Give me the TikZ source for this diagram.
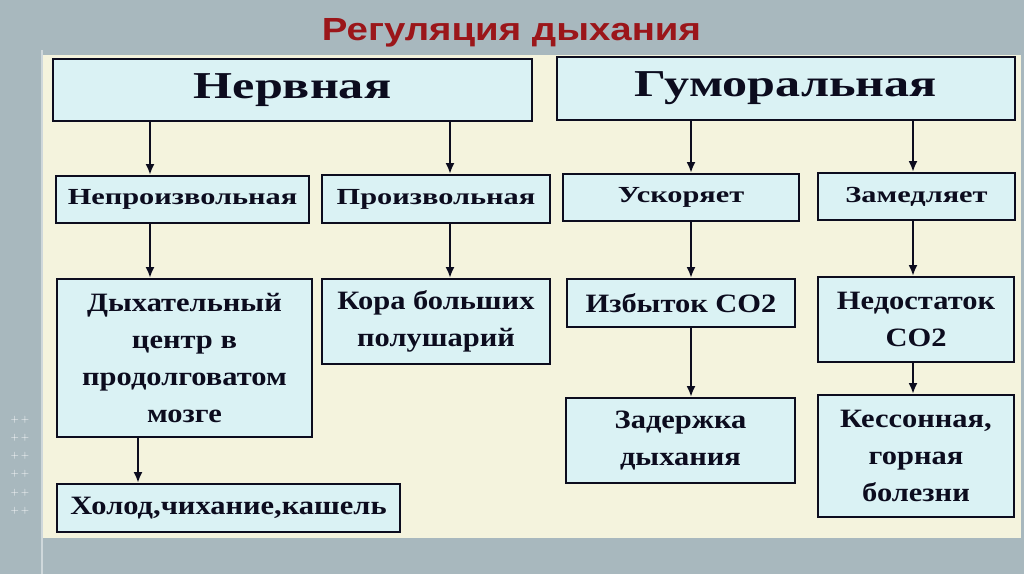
\documentclass[tikz,border=0pt]{standalone}
\usepackage{fontspec}
\setmainfont{Liberation Serif}
\newfontfamily\boxfont[FakeStretch=1.32]{Liberation Serif}
\newfontfamily\leaffont[FakeStretch=1.15]{Liberation Serif}
\newfontfamily\titlefont[FakeStretch=1.2]{Liberation Sans}
\usetikzlibrary{arrows.meta}

\definecolor{slidegray}{RGB}{168,184,190}
\definecolor{panelcream}{RGB}{244,243,221}
\definecolor{boxcyan}{RGB}{218,242,244}
\definecolor{titlered}{RGB}{155,22,26}
\definecolor{inkdark}{RGB}{12,12,30}

\begin{document}
\begin{tikzpicture}[x=1pt,y=-1pt,
  block/.style={draw=inkdark,line width=2pt,fill=boxcyan,inner sep=0pt,align=center,text=inkdark},
  head/.style={block,font=\boxfont\bfseries\fontsize{38}{40}\selectfont},
  kind/.style={block,font=\boxfont\bfseries\fontsize{23}{26}\selectfont},
  leaf/.style={block,font=\leaffont\bfseries\fontsize{26.5}{37}\selectfont},
  link/.style={-{Latex[length=11pt,width=9pt]},line width=2.8pt,draw=inkdark}
]
  % slide background
  \useasboundingbox (0,0) rectangle (1024,574);
  \fill[slidegray] (0,0) rectangle (1024,574);
  \fill[panelcream] (43,55) rectangle (1021,538);
  \draw[white!45!slidegray,line width=1.5pt] (42,50) -- (42,574);
  \foreach \yy in {420,438,456,474,493,511}
    \node[text=white,font=\sffamily\fontsize{11}{11}\selectfont,inner sep=0pt] (plus-\yy) at (20,\yy) {+\,+};

  \node[font=\titlefont\bfseries\fontsize{32}{34}\selectfont,text=titlered,anchor=base] (title) at (511.5,40) {Регуляция дыхания};

  % top level
  \node[head,minimum width=479,minimum height=62] (nerv) at (292.5,90) {Нервная};
  \node[head,minimum width=458,minimum height=63] (gum) at (786,88.5) {Гуморальная};

  % second level
  \node[kind,minimum width=253,minimum height=47] (nepr) at (182.5,199.5) {Непроизвольная};
  \node[kind,minimum width=228,minimum height=48] (proi) at (436,199) {Произвольная};
  \node[kind,minimum width=236,minimum height=47] (usk) at (681,197.5) {Ускоряет};
  \node[kind,minimum width=197,minimum height=47] (zam) at (916.5,196.5) {Замедляет};

  % third level
  \node[leaf,minimum width=255,minimum height=158] (dyh) at (184.5,358) {Дыхательный\\центр в\\продолговатом\\мозге};
  \node[leaf,minimum width=228,minimum height=85] (kora) at (436,321.5) {Кора больших\\полушарий};
  \node[leaf,minimum width=228,minimum height=48] (izb) at (681,303) {Избыток CO2};
  \node[leaf,minimum width=196,minimum height=85] (nedo) at (916,319.5) {Недостаток\\CO2};

  % bottom level
  \node[leaf,minimum width=343,minimum height=48] (holod) at (228.5,508) {Холод,чихание,кашель};
  \node[leaf,minimum width=229,minimum height=85] (zad) at (680.5,440.5) {Задержка\\дыхания};
  \node[leaf,minimum width=196,minimum height=122] (kess) at (916,456) {Кессонная,\\горная\\болезни};

  % arrow columns
  \coordinate (colA) at (150,0);
  \coordinate (colB) at (450,0);
  \coordinate (colC) at (138,0);
  \coordinate (colD) at (691,0);
  \coordinate (colE) at (913,0);

  \draw[link] (nerv.south -| colA) -- (nepr.north -| colA);
  \draw[link] (nerv.south -| colB) -- (proi.north -| colB);
  \draw[link] (gum.south -| colD) -- (usk.north -| colD);
  \draw[link] (gum.south -| colE) -- (zam.north -| colE);
  \draw[link] (nepr.south -| colA) -- (dyh.north -| colA);
  \draw[link] (proi.south -| colB) -- (kora.north -| colB);
  \draw[link] (usk.south -| colD) -- (izb.north -| colD);
  \draw[link] (zam.south -| colE) -- (nedo.north -| colE);
  \draw[link] (dyh.south -| colC) -- (holod.north -| colC);
  \draw[link] (izb.south -| colD) -- (zad.north -| colD);
  \draw[link] (nedo.south -| colE) -- (kess.north -| colE);
\end{tikzpicture}
\end{document}
